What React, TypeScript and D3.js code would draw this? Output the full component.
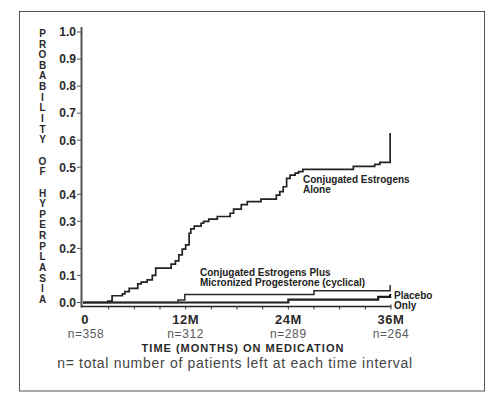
import React from "react";
import * as d3 from "d3";

// Step-curve data (months, cumulative probability)
const ceAloneMonths = [0, 2.9, 3.4, 4.6, 4.9, 5.4, 6.4, 6.8, 7.5, 8.1, 8.5, 10.3, 10.8, 11.2, 11.6, 12.0, 12.4, 12.6, 13.0, 13.8, 14.1, 14.7, 15.7, 17.2, 17.6, 18.5, 19.2, 20.8, 22.6, 23.0, 23.4, 23.8, 24.2, 24.8, 25.2, 25.7, 31.6, 34.1, 34.7, 35.9];
const ceAloneValues = [0, 0.005, 0.025, 0.032, 0.04, 0.052, 0.069, 0.075, 0.084, 0.1, 0.127, 0.142, 0.154, 0.176, 0.197, 0.213, 0.256, 0.272, 0.282, 0.293, 0.3, 0.308, 0.318, 0.33, 0.345, 0.362, 0.373, 0.382, 0.397, 0.41, 0.428, 0.459, 0.471, 0.478, 0.484, 0.492, 0.503, 0.511, 0.518, 0.627];

const ceMpMonths = [0, 11.1, 11.9, 27.0, 35.9];
const ceMpValues = [0, 0.009, 0.03, 0.043, 0.065];

const placeboMonths = [0, 24.0, 34.5, 35.9];
const placeboValues = [0, 0.011, 0.021, 0.031];

const yTicks = [0, 0.1, 0.2, 0.3, 0.4, 0.5, 0.6, 0.7, 0.8, 0.9, 1.0];
const xMajorTicks = [0, 12, 24, 36];
const xMajorLabels = ["0", "12M", "24M", "36M"];
const nLabels = ["n=358", "n=312", "n=289", "n=264"];
const xMinorTicks = [3, 6, 9, 12, 15, 18, 21, 24, 27, 30, 33, 36];
const yTitle = "PROBABILITY OF HYPERPLASIA";

const FONT = "'Liberation Sans', Arial, Helvetica, sans-serif";

export default function App() {
  const x = d3.scaleLinear().domain([0, 36]).range([83, 391]);
  const y = d3.scaleLinear().domain([0, 1]).range([302.5, 32]);
  const line = d3
    .line<[number, number]>()
    .x((d) => x(d[0]))
    .y((d) => y(d[1]))
    .curve(d3.curveStepAfter);

  const zip = (a: number[], b: number[]) => a.map((v, i) => [v, b[i]] as [number, number]);
  const axisY = 306.5;

  return (
    <svg
      width={494}
      height={396}
      style={{ position: "absolute", left: 0, top: 0, background: "#fff" }}
      fontFamily={FONT}
    >
      <rect x={19.5} y={11.5} width={465} height={379.5} fill="none" stroke="#555" strokeWidth={1} />

      {/* Y title, stacked letters */}
      {yTitle.split("").map((c, i) => (
        <text
          key={i}
          x={42.5}
          y={33.3 + i * 10.64}
          dy="0.36em"
          textAnchor="middle"
          fontSize={10}
          fontWeight="bold"
          fill="#2a2a2a"
        >
          {c}
        </text>
      ))}

      {/* Y axis */}
      <line x1={81.5} x2={81.5} y1={27} y2={axisY + 1} stroke="#555" strokeWidth={2} />
      {yTicks.map((t) => (
        <g key={t}>
          <line x1={77} x2={81} y1={y(t)} y2={y(t)} stroke="#555" strokeWidth={1} />
          <text x={76} y={y(t)} dy="0.36em" textAnchor="end" fontSize={12} fontWeight="bold" fill="#2a2a2a">
            {t.toFixed(1)}
          </text>
        </g>
      ))}

      {/* X axis */}
      <line x1={81} x2={x(36)} y1={axisY} y2={axisY} stroke="#222" strokeWidth={1.5} />
      {xMinorTicks.map((t) => (
        <line key={t} x1={x(t)} x2={x(t)} y1={axisY} y2={axisY + 3} stroke="#333" strokeWidth={1} />
      ))}
      <line x1={x(36)} x2={x(36)} y1={axisY} y2={axisY - 2} stroke="#222" strokeWidth={1} />
      {xMajorTicks.map((t, i) => (
        <g key={t}>
          <text
            x={x(t) + (i === 0 ? 2 : 0)}
            y={323.5}
            textAnchor="middle"
            fontSize={13}
            fontWeight="bold"
            letterSpacing={0.5}
            fill="#2a2a2a"
          >
            {xMajorLabels[i]}
          </text>
          <text
            x={x(t) + (i === 0 ? 3 : 0)}
            y={338}
            textAnchor="middle"
            fontSize={12}
            letterSpacing={0.6}
            fill="#5a5a5a"
          >
            {nLabels[i]}
          </text>
        </g>
      ))}
      <text x={243} y={351.5} textAnchor="middle" fontSize={11} fontWeight="bold" letterSpacing={1} fill="#2a2a2a">
        TIME (MONTHS) ON MEDICATION
      </text>
      <text x={235} y={367.5} textAnchor="middle" fontSize={14} letterSpacing={0.7} fill="#444">
        n= total number of patients left at each time interval
      </text>

      {/* Curves */}
      <path d={line(zip(placeboMonths, placeboValues)) || ""} fill="none" stroke="#1e1e1e" strokeWidth={2.2} />
      <path d={line(zip(ceMpMonths, ceMpValues)) || ""} fill="none" stroke="#2a2a2a" strokeWidth={1.5} />
      <path d={line(zip(ceAloneMonths, ceAloneValues)) || ""} fill="none" stroke="#222" strokeWidth={1.7} />

      {/* Annotations */}
      <g fontSize={10} fontWeight="bold" fill="#222">
        <text x={303} y={182.5}>Conjugated Estrogens</text>
        <text x={303} y={192.5}>Alone</text>
        <text x={200} y={276}>Conjugated Estrogens Plus</text>
        <text x={200} y={286}>Micronized Progesterone (cyclical)</text>
        <text x={394} y={298.5}>Placebo</text>
        <text x={394} y={308.5}>Only</text>
      </g>
    </svg>
  );
}
